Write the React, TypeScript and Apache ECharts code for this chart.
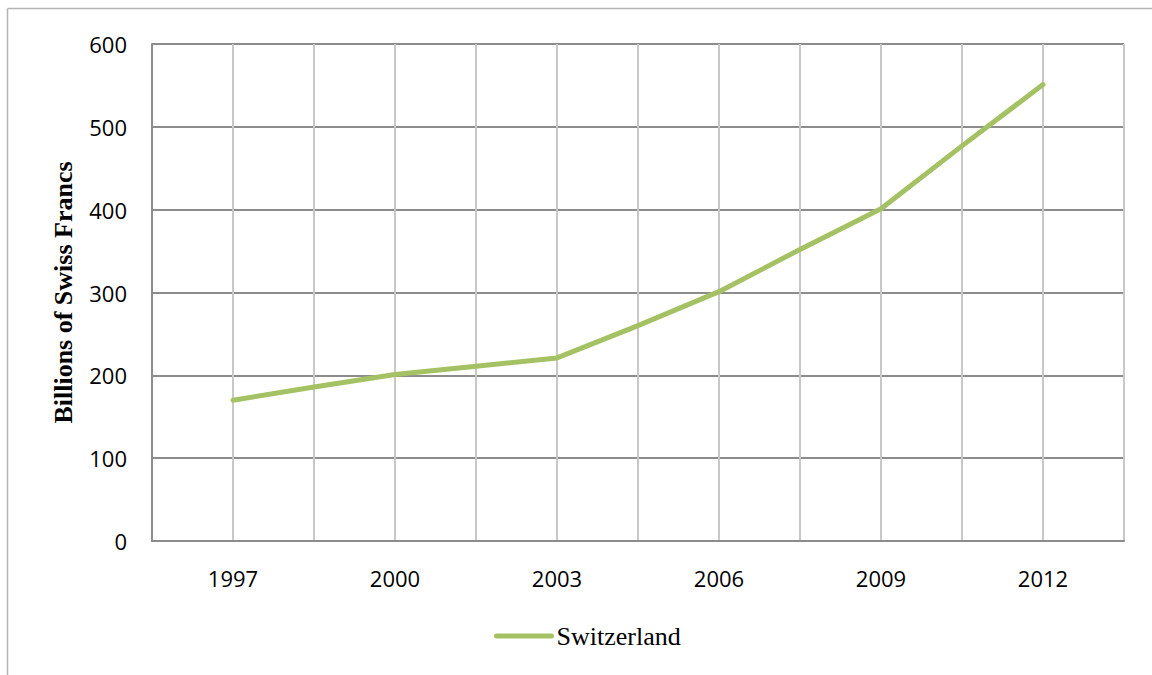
import React, { useEffect, useRef } from "react";
import * as echarts from "echarts";

// Category slots every 1.5 years; only the labelled years carry text.
const periodLabels = ["", "1997", "", "2000", "", "2003", "", "2006", "", "2009", "", "2012", ""];
// Billions of Swiss Francs at each slot (empty slots pad the axis ends).
const switzerland = [null, 170, 186, 201, 211, 221, 260, 301, 352, 401, 477, 551, null];
const yTicks = { min: 0, max: 600, interval: 100 };
const seriesName = "Switzerland";
const yTitle = "Billions of Swiss Francs";

export default function App() {
  const ref = useRef<HTMLDivElement>(null);

  useEffect(() => {
    document.body.style.margin = "0";
    const chart = echarts.init(ref.current!, null, { renderer: "svg" });
    const sans = "'Open Sans', 'Noto Sans', sans-serif";
    const serif = "'Liberation Serif', 'DejaVu Serif', serif";
    const green = "#a4c263";
    chart.setOption({
      animation: false,
      backgroundColor: "#ffffff",
      graphic: [
        {
          type: "line",
          shape: { x1: 7.5, y1: 8.5, x2: 1160, y2: 8.5 },
          style: { stroke: "#b4b4b4", lineWidth: 1.5 },
        },
        {
          type: "line",
          shape: { x1: 7.5, y1: 8.5, x2: 7.5, y2: 700 },
          style: { stroke: "#b4b4b4", lineWidth: 1.5 },
        },
      ],
      grid: { left: 152, right: 28, top: 44, bottom: 134, containLabel: false },
      legend: {
        data: [seriesName],
        left: 494,
        top: 623,
        padding: 0,
        itemWidth: 55,
        itemHeight: 26,
        itemGap: 10,
        itemStyle: { opacity: 0 },
        lineStyle: { width: 5, cap: "round", color: green },
        textStyle: { fontFamily: serif, fontSize: 26, color: "#000" },
      },
      xAxis: {
        type: "category",
        data: periodLabels,
        boundaryGap: false,
        axisLine: { show: true, lineStyle: { color: "#8c8c8c", width: 2 } },
        axisTick: { show: false },
        axisLabel: {
          interval: 0,
          margin: 26,
          fontFamily: sans,
          fontSize: 22,
          color: "#000",
        },
        splitLine: { show: true, interval: 0, lineStyle: { color: "#c8c8c8", width: 2 } },
      },
      yAxis: {
        type: "value",
        min: yTicks.min,
        max: yTicks.max,
        interval: yTicks.interval,
        name: yTitle,
        nameLocation: "middle",
        nameRotate: 90,
        nameGap: 76,
        nameTextStyle: { fontFamily: serif, fontSize: 26, fontWeight: "bold", color: "#000" },
        axisLine: { show: true, lineStyle: { color: "#8c8c8c", width: 2 } },
        axisTick: { show: false },
        axisLabel: { margin: 25, fontFamily: sans, fontSize: 22, color: "#000" },
        splitLine: { show: true, lineStyle: { color: "#8c8c8c", width: 2 } },
      },
      series: [
        {
          name: seriesName,
          type: "line",
          data: switzerland,
          symbol: "none",
          connectNulls: false,
          itemStyle: { color: green },
          lineStyle: { color: green, width: 5, cap: "round", join: "round" },
        },
      ],
    });
    return () => chart.dispose();
  }, []);

  return <div ref={ref} style={{ width: 1152, height: 675 }} />;
}
